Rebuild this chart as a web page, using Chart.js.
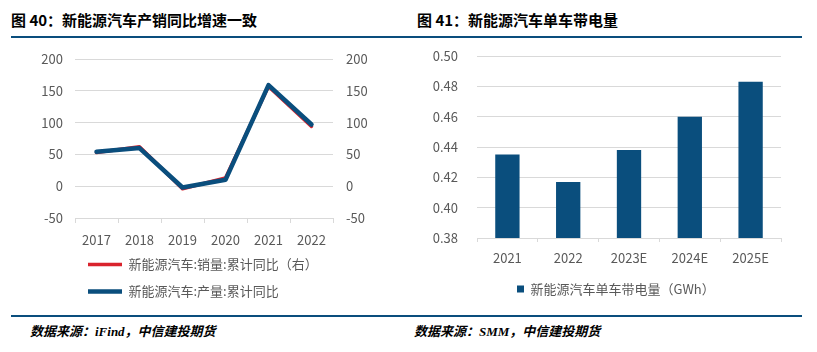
<!DOCTYPE html>
<html>
<head>
<meta charset="utf-8">
<script src="https://cdn.jsdelivr.net/npm/chart.js@4"></script>
<style>
  body { margin:0; background:#fff; }
  #page { position:relative; width:817px; height:352px; overflow:hidden; font-family:"Noto Sans CJK SC", sans-serif; }
  .title { position:absolute; top:9px; font-size:15px; font-weight:bold; color:#000; line-height:22px; white-space:nowrap; }
  .rule { position:absolute; left:11px; width:791px; height:2px; background:#0a4e7d; }
  .src { position:absolute; top:324px; font-family:"Liberation Serif","Noto Sans CJK SC",serif; font-size:13px; font-weight:bold; font-style:italic; color:#000; line-height:16px; white-space:nowrap; }
  canvas { position:absolute; }
</style>
</head>
<body>
<div id="page">
  <div class="title" style="left:11px">图 40：新能源汽车产销同比增速一致</div>
  <div class="title" style="left:417px">图 41：新能源汽车单车带电量</div>
  <div class="rule" style="top:36px"></div>
  <canvas id="c1" width="400" height="273" style="left:0;top:45px"></canvas>
  <canvas id="c2" width="407" height="268" style="left:410px;top:40px"></canvas>
  <div class="rule" style="top:315px"></div>
  <div class="src" style="left:30px">数据来源：iFind，中信建投期货</div>
  <div class="src" style="left:414px">数据来源：SMM，中信建投期货</div>
</div>
<script>
// left chart data
var years = ['2017','2018','2019','2020','2021','2022'];
var prodYoY = [54, 60, -2, 10, 159, 97];
var salesYoY = [53, 62, -4, 13, 157, 94];
// right chart data
var batYears = ['2021','2022','2023E','2024E','2025E'];
var batPerCar = [0.435, 0.417, 0.438, 0.460, 0.483];

var blue = '#0a4e7d', red = '#d9232d', grid = '#d9d9d9', txt = '#595959';
var tickFont = {family:'"Noto Sans CJK SC", sans-serif', size:13};
var clear = 'rgba(0,0,0,0)';

// move legend after layout
var legendShift = {
  id: 'legendShift',
  afterLayout: function(chart, args, opts){
    var dx = opts.dx || 0, dy = opts.dy || 0;
    chart.legend.left += dx;
    chart.legend.right += dx;
    chart.legend.top += dy;
    chart.legend.bottom += dy;
  }
};

new Chart(document.getElementById('c1'), {
  type: 'line',
  data: {
    labels: years,
    datasets: [
      {label:'新能源汽车:产量:累计同比', data: prodYoY, yAxisID:'y', borderColor: blue, backgroundColor: blue,
       borderWidth: 4.5, pointRadius: 0, borderCapStyle:'round', borderJoinStyle:'round'},
      {label:'新能源汽车:销量:累计同比（右）', data: salesYoY, yAxisID:'y1', borderColor: red, backgroundColor: red,
       borderWidth: 3.5, pointRadius: 0, borderCapStyle:'round', borderJoinStyle:'round'}
    ]
  },
  options: {
    responsive: false,
    animation: false,
    layout: {padding: {left:30, right:17, top:14, bottom:2}},
    scales: {
      x: {
        offset: true,
        grid: {offset: true, drawOnChartArea: false, drawTicks: true, tickLength: 5, color: grid},
        border: {color: grid},
        ticks: {color: txt, font: tickFont, padding: 9, maxRotation: 0},
        afterFit: function(s){ s.height = 34; }
      },
      y: {
        position: 'left', min: -50, max: 200,
        ticks: {stepSize: 50, color: txt, font: tickFont, padding: 0},
        grid: {color: grid, drawTicks: true, tickLength: 12, tickColor: clear},
        border: {display: false},
        afterFit: function(s){ s.width = 45; }
      },
      y1: {
        position: 'right', min: -50, max: 200,
        ticks: {stepSize: 50, color: txt, font: tickFont, padding: 0},
        grid: {drawOnChartArea: false, drawTicks: true, tickLength: 13, tickColor: clear},
        border: {display: false},
        afterFit: function(s){ s.width = 50; }
      }
    },
    plugins: {
      tooltip: {enabled: false},
      legendShift: {dx: 44, dy: -8},
      legend: {
        position: 'bottom', align: 'start', reverse: true,
        labels: {usePointStyle: true, pointStyle: 'line', pointStyleWidth: 34,
                 color: txt, font: tickFont, padding: 14}
      }
    }
  },
  plugins: [legendShift]
});

new Chart(document.getElementById('c2'), {
  type: 'bar',
  data: {
    labels: batYears,
    datasets: [
      {label:'新能源汽车单车带电量（GWh）', data: batPerCar, backgroundColor: blue,
       categoryPercentage: 1, barPercentage: 0.4}
    ]
  },
  options: {
    responsive: false,
    animation: false,
    layout: {padding: {left:10, right:36, top:16, bottom:2.5}},
    scales: {
      x: {
        grid: {offset: true, drawOnChartArea: false, drawTicks: true, tickLength: 4, color: grid},
        border: {color: grid},
        ticks: {color: txt, font: tickFont, padding: 8, maxRotation: 0},
        afterFit: function(s){ s.height = 34.5; }
      },
      y: {
        min: 0.38, max: 0.50,
        ticks: {stepSize: 0.02, color: txt, font: tickFont, padding: 0,
                callback: function(v){ return v.toFixed(2); }},
        grid: {color: grid, drawTicks: true, tickLength: 19, tickColor: clear},
        border: {display: false},
        afterFit: function(s){ s.width = 57; }
      }
    },
    plugins: {
      tooltip: {enabled: false},
      legendShift: {dx: 87},
      legend: {
        position: 'bottom', align: 'start',
        labels: {boxWidth: 7, boxHeight: 7, color: txt, font: tickFont, padding: 10}
      }
    }
  },
  plugins: [legendShift]
});
</script>
</body>
</html>
